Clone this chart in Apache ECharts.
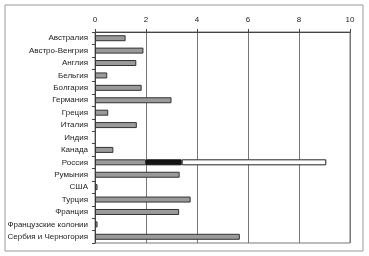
<!DOCTYPE html>
<html>
<head>
<meta charset="utf-8">
<script src="https://cdn.jsdelivr.net/npm/echarts@6/dist/echarts.min.js"></script>
<style>
  html, body { margin: 0; padding: 0; background: #fff; }
  #chart { width: 369px; height: 256px; }
</style>
</head>
<body>
<div id="chart"></div>
<script>
  const countries = ['Австралия', 'Австро-Венгрия', 'Англия', 'Бельгия', 'Болгария', 'Германия', 'Греция', 'Италия', 'Индия', 'Канада', 'Россия', 'Румыния', 'США', 'Турция', 'Франция', 'Французские колонии', 'Сербия и Черногория']
  const baseValues = [1.2, 1.9, 1.62, 0.48, 1.83, 3.0, 0.52, 1.64, null, 0.72, 2.0, 3.32, 0.1, 3.75, 3.3, 0.1, 5.68]
  const darkValues = [null, null, null, null, null, null, null, null, null, null, 1.4, null, null, null, null, null, null]
  const lightValues = [null, null, null, null, null, null, null, null, null, null, 5.67, null, null, null, null, null, null]
  const xTicks = [0, 2, 4, 6, 8, 10]

  const chart = echarts.init(document.getElementById('chart'), null, { renderer: 'canvas' })

  const barCommon = {
    type: 'bar',
    stack: 'total',
    barWidth: 6,
    animation: false,
    silent: true
  }

  chart.setOption({
    backgroundColor: '#fff',
    textStyle: { fontFamily: 'Liberation Sans, Arial, sans-serif' },
    graphic: [{
      type: 'rect',
      shape: { x: 5, y: 5, width: 358, height: 246 },
      style: { fill: 'none', stroke: '#999', lineWidth: 1 },
      silent: true
    }],
    grid: {
      left: 95, right: 19, top: 32, bottom: 13,
      show: true,
      borderColor: '#777',
      borderWidth: 1
    },
    xAxis: {
      type: 'value',
      position: 'top',
      min: xTicks[0],
      max: xTicks[xTicks.length - 1],
      interval: 2,
      axisLine: { show: true, lineStyle: { color: '#444' } },
      axisTick: { show: true, length: 3, lineStyle: { color: '#444' } },
      axisLabel: { color: '#222', fontSize: 8, margin: 8 },
      splitLine: { show: true, lineStyle: { color: '#777', width: 1 } }
    },
    yAxis: {
      type: 'category',
      inverse: true,
      data: countries,
      axisLine: { show: true, lineStyle: { color: '#444' } },
      axisTick: { show: true, length: 3, lineStyle: { color: '#444' } },
      axisLabel: { color: '#222', fontSize: 8, margin: 7 }
    },
    series: [
      Object.assign({}, barCommon, {
        data: baseValues,
        itemStyle: { color: '#9a9a9a', borderColor: '#333', borderWidth: 1 }
      }),
      Object.assign({}, barCommon, {
        data: darkValues,
        itemStyle: { color: '#151515', borderColor: '#111', borderWidth: 1 }
      }),
      Object.assign({}, barCommon, {
        data: lightValues,
        itemStyle: { color: '#fff', borderColor: '#222', borderWidth: 1 }
      })
    ]
  })
</script>
</body>
</html>
